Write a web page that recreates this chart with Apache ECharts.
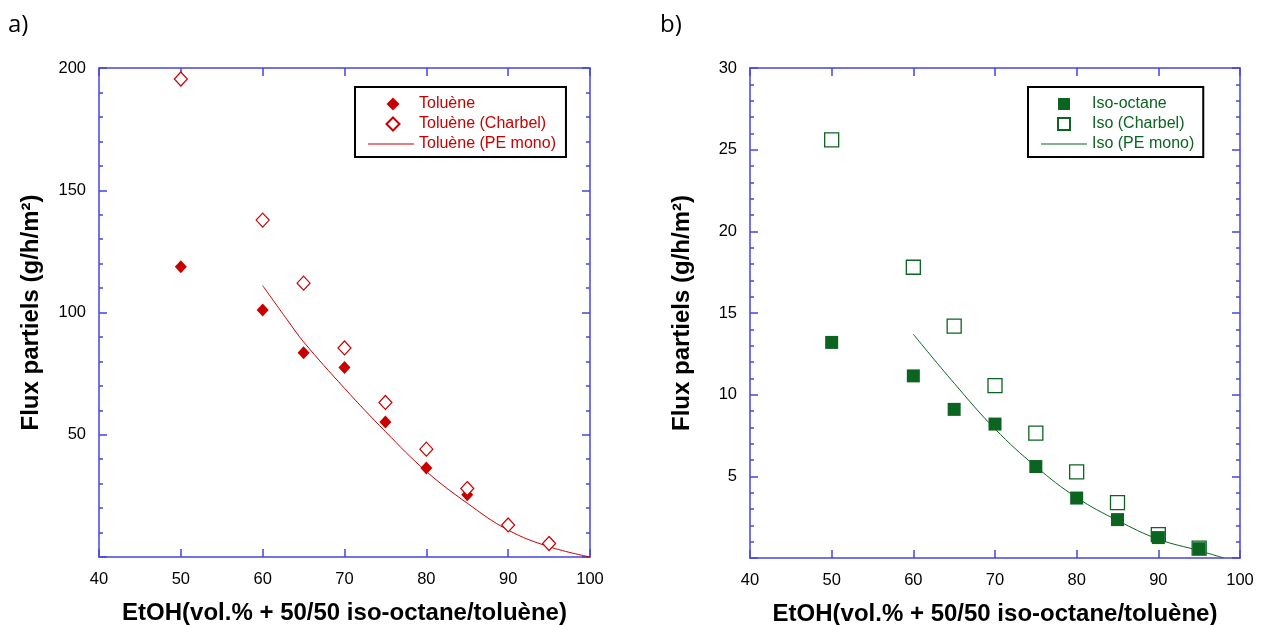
<!DOCTYPE html>
<html>
<head>
<meta charset="utf-8">
<script src="https://cdn.jsdelivr.net/npm/echarts@6/dist/echarts.min.js"></script>
<style>
html,body{margin:0;padding:0;background:#fff;}
#c{width:1266px;height:625px;}
</style>
</head>
<body>
<div id="c"></div>
<script>
// ---- data ----
const xTicks = [40, 50, 60, 70, 80, 90, 100];

// panel a) toluene
const tolX = [50, 60, 65, 70, 75, 80, 85, 95];
const tolY = [118.7, 101, 83.5, 77.5, 55.2, 36.4, 25.5, 5.9];
const tolChX = [50, 60, 65, 70, 75, 80, 85, 90, 95];
const tolChY = [195.5, 137.8, 112, 85.5, 63.2, 44.1, 28, 13.1, 5.5];
const tolPeX = [60, 63, 65, 70, 75, 80, 85, 90, 95, 100];
const tolPeY = [111, 97, 88, 69, 51.3, 35, 22, 11, 4.2, 0];

// panel b) iso-octane
const isoX = [50, 60, 65, 70, 75, 80, 85, 90, 95];
const isoY = [13.2, 11.15, 9.1, 8.2, 5.6, 3.67, 2.35, 1.25, 0.57];
const isoChX = [50, 60, 65, 70, 75, 80, 85, 90, 95];
const isoChY = [25.6, 17.8, 14.2, 10.55, 7.65, 5.27, 3.39, 1.43, 0.6];
const isoPeX = [60, 65, 70, 75, 80, 85, 90, 95, 98];
const isoPeY = [13.7, 10.7, 7.9, 5.6, 3.7, 2.3, 1.15, 0.45, 0];

const names = {
  tol: 'Toluène', tolCh: 'Toluène (Charbel)', tolPe: 'Toluène (PE mono)',
  iso: 'Iso-octane', isoCh: 'Iso (Charbel)', isoPe: 'Iso (PE mono)'
};
const yName = 'Flux partiels (g/h/m²)';
const xName = 'EtOH(vol.% + 50/50 iso-octane/toluène)';

function pairs(xs, ys) { return xs.map((x, i) => [x, ys[i]]); }

const RED = '#c80000';
const GREEN = '#0b6420';
const BLUE = '#4646e0';
const FONT = 'Liberation Sans, Arial, sans-serif';
const AXW = 1.5;

// legend icons in a 46x14 box (invisible end points keep the box width)
const DIAMOND_ICON = 'path://M0,7L0,7M25,0.5L31.5,7L25,13.5L18.5,7ZM46,7L46,7';
const SQUARE_ICON = 'path://M0,7L0,7M17,1L29,1L29,13L17,13ZM46,7L46,7';
const LINE_ICON = 'path://M0,0L0,0M0,6.5L46,6.5L46,7.5L0,7.5ZM46,14L46,14';

function xAxisBottom(grid) {
  return {
    type: 'value', gridIndex: grid, position: 'bottom', min: 40, max: 100, interval: 10,
    axisLine: { show: true, onZero: false, lineStyle: { color: BLUE, width: AXW } },
    axisTick: { show: true, inside: true, length: 8, lineStyle: { color: BLUE, width: AXW } },
    axisLabel: { color: '#000', fontSize: 16.5, fontFamily: FONT, margin: 14 },
    splitLine: { show: false },
    name: xName, nameLocation: 'middle', nameGap: 44,
    nameTextStyle: { color: '#000', fontSize: 24, fontWeight: 'bold', fontFamily: FONT }
  };
}
function xAxisTop(grid) {
  return {
    type: 'value', gridIndex: grid, position: 'top', min: 40, max: 100, interval: 10,
    axisLine: { show: true, onZero: false, lineStyle: { color: BLUE, width: AXW } },
    axisTick: { show: true, inside: true, length: 8, lineStyle: { color: BLUE, width: AXW } },
    axisLabel: { show: false },
    splitLine: { show: false }
  };
}
function yAxisLeft(grid, max, interval) {
  return {
    type: 'value', gridIndex: grid, position: 'left', min: 0, max: max, interval: interval,
    axisLine: { show: true, onZero: false, lineStyle: { color: BLUE, width: AXW } },
    axisTick: { show: true, inside: true, length: 8, lineStyle: { color: BLUE, width: AXW } },
    minorTick: { show: true, splitNumber: 5, length: 4, lineStyle: { color: BLUE, width: AXW } },
    axisLabel: { color: '#000', fontSize: 16.5, fontFamily: FONT, margin: 13, showMinLabel: false },
    splitLine: { show: false }, minorSplitLine: { show: false },
    name: yName, nameLocation: 'middle', nameGap: 56, nameRotate: 90,
    nameTextStyle: { color: '#000', fontSize: 24, fontWeight: 'bold', fontFamily: FONT }
  };
}
function yAxisRight(grid, max, interval) {
  return {
    type: 'value', gridIndex: grid, position: 'right', min: 0, max: max, interval: interval,
    axisLine: { show: true, onZero: false, lineStyle: { color: BLUE, width: AXW } },
    axisTick: { show: true, inside: true, length: 8, lineStyle: { color: BLUE, width: AXW } },
    minorTick: { show: true, splitNumber: 5, length: 4, lineStyle: { color: BLUE, width: AXW } },
    axisLabel: { show: false },
    splitLine: { show: false }, minorSplitLine: { show: false }
  };
}
function legend(left, items, color, padRight) {
  return {
    orient: 'vertical', left: left, top: 87,
    data: items,
    itemWidth: 46, itemHeight: 14, itemGap: 4,
    padding: [9, padRight, 5, 12],
    borderColor: '#000', borderWidth: 2,
    textStyle: { color: color, fontSize: 16, lineHeight: 16, fontFamily: FONT }
  };
}

const option = {
  animation: false,
  backgroundColor: '#fff',
  graphic: [
    { type: 'text', left: 8, top: 13, style: { text: 'a)', fontSize: 24, fontFamily: 'Open Sans, sans-serif', fill: '#000' } },
    { type: 'text', left: 660, top: 13, style: { text: 'b)', fontSize: 24, fontFamily: 'Open Sans, sans-serif', fill: '#000' } }
  ],
  grid: [
    { left: 99, top: 68, width: 491, height: 489, outerBoundsMode: 'none', containLabel: false },
    { left: 750, top: 68, width: 490, height: 490, outerBoundsMode: 'none', containLabel: false }
  ],
  xAxis: [xAxisBottom(0), xAxisTop(0), xAxisBottom(1), xAxisTop(1)],
  yAxis: [yAxisLeft(0, 200, 50), yAxisRight(0, 200, 50), yAxisLeft(1, 30, 5), yAxisRight(1, 30, 5)],
  legend: [
    legend(355, [
      { name: names.tol, icon: DIAMOND_ICON },
      { name: names.tolCh, icon: DIAMOND_ICON },
      { name: names.tolPe, icon: LINE_ICON, itemStyle: { color: RED, borderWidth: 0 } }
    ], RED, 10),
    legend(1028, [
      { name: names.iso, icon: SQUARE_ICON },
      { name: names.isoCh, icon: SQUARE_ICON },
      { name: names.isoPe, icon: LINE_ICON, itemStyle: { color: GREEN, borderWidth: 0 } }
    ], GREEN, 9)
  ],
  series: [
    {
      name: names.tolPe, type: 'line', xAxisIndex: 0, yAxisIndex: 0,
      data: pairs(tolPeX, tolPeY), smooth: 0.4, symbol: 'none',
      lineStyle: { color: RED, width: 1 }, itemStyle: { color: RED }, z: 2
    },
    {
      name: names.tol, type: 'scatter', xAxisIndex: 0, yAxisIndex: 0,
      data: pairs(tolX, tolY), symbol: 'diamond', symbolSize: [12, 13],
      itemStyle: { color: RED, opacity: 1 }, z: 3
    },
    {
      name: names.tolCh, type: 'scatter', xAxisIndex: 0, yAxisIndex: 0,
      data: pairs(tolChX, tolChY), symbol: 'diamond', symbolSize: [13, 14],
      itemStyle: { color: '#fff', borderColor: RED, borderWidth: 1.2, opacity: 1 }, z: 4
    },
    {
      name: names.isoPe, type: 'line', xAxisIndex: 2, yAxisIndex: 2,
      data: pairs(isoPeX, isoPeY), smooth: 0.4, symbol: 'none',
      lineStyle: { color: GREEN, width: 1 }, itemStyle: { color: GREEN }, z: 2
    },
    {
      name: names.isoCh, type: 'scatter', xAxisIndex: 2, yAxisIndex: 2,
      data: pairs(isoChX, isoChY), symbol: 'rect', symbolSize: 14,
      itemStyle: { color: '#fff', borderColor: GREEN, borderWidth: 1.3, opacity: 1 }, z: 3
    },
    {
      name: names.iso, type: 'scatter', xAxisIndex: 2, yAxisIndex: 2,
      data: pairs(isoX, isoY), symbol: 'rect', symbolSize: 13,
      itemStyle: { color: GREEN, opacity: 1 }, z: 4
    }
  ]
};

const chart = echarts.init(document.getElementById('c'), null, { renderer: 'canvas' });
chart.setOption(option);
</script>
</body>
</html>
